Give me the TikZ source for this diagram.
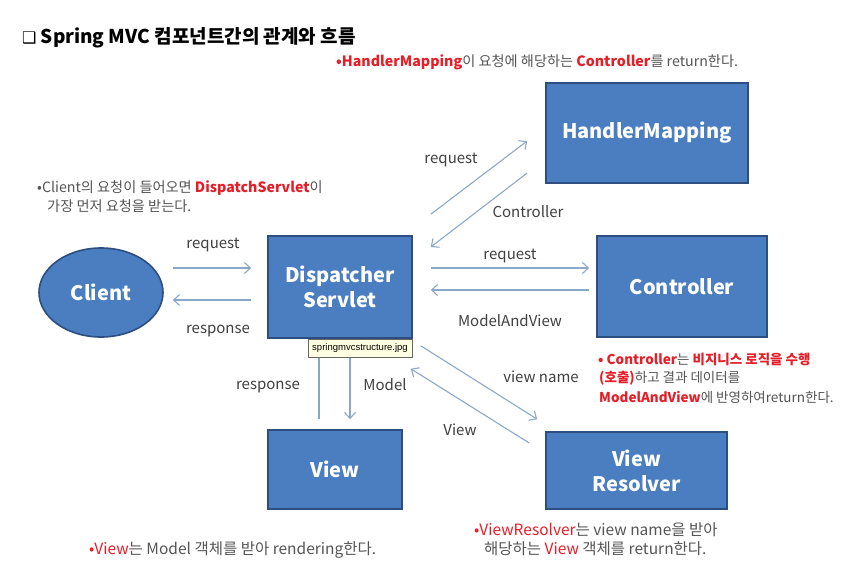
\documentclass[tikz,border=0pt]{standalone}
\usepackage{fontspec}
\setmainfont{Noto Sans CJK KR}
\newfontfamily\symfont{DejaVu Sans}
\newfontfamily\tipfont{Liberation Sans}
\usetikzlibrary{shapes.geometric,arrows.meta,calc}
\definecolor{boxfill}{RGB}{74,126,193}
\definecolor{boxline}{RGB}{44,78,128}
\definecolor{arrowc}{RGB}{140,168,200}
\definecolor{kred}{RGB}{230,30,40}
\definecolor{kgray}{RGB}{85,85,85}
\definecolor{lblc}{RGB}{64,64,64}
\definecolor{tipfill}{RGB}{255,255,225}
\newcommand\hl[1]{\textcolor{kred}{\bfseries #1}}
\tikzset{
  box/.style={draw=boxline, line width=1.6pt, fill=boxfill, text=white,
    font=\bfseries\fontsize{20}{25}\selectfont, align=center, inner sep=0pt},
  arr/.style={draw=arrowc, line width=1.1pt, -{Straight Barb[length=6pt,width=11pt]}},
  lbl/.style={text=lblc, font=\fontsize{15}{18}\selectfont, inner sep=0pt},
  note/.style={text=kgray, font=\fontsize{13.5}{16}\selectfont, anchor=west, inner sep=0pt},
  notea/.style={note, font=\fontsize{14.2}{17}\selectfont},
  noteb/.style={note, font=\fontsize{15.5}{18}\selectfont},
}
\begin{document}
\begin{tikzpicture}[x=1pt,y=-1pt]
\fill[white] (0,0) rectangle (843,573);
\useasboundingbox (0,0) rectangle (843,573);

% title
\node[anchor=west, inner sep=0pt, font=\bfseries\fontsize{19}{22}\selectfont] (title) at (22,38)
  {{\symfont\mdseries\fontsize{16}{18}\selectfont ❑}\ Spring MVC 컴포넌트간의 관계와 흐름};

% boxes
\node[box, minimum width=202pt, minimum height=100pt] (hm) at (647,133) {HandlerMapping};
\node[box, minimum width=144pt, minimum height=102pt] (ds) at (340,287) {Dispatcher\\Servlet};
\node[box, minimum width=170pt, minimum height=101pt] (ctrl) at (682,286.5) {Controller};
\node[box, minimum width=134pt, minimum height=79pt] (view) at (335,469.5) {View};
\node[box, minimum width=181pt, minimum height=77pt] (vr) at (636.5,470.5) {View\\Resolver};
\node[box, ellipse, minimum width=124pt, minimum height=89pt] (client) at (101,292.5) {Client};

% connectors
\draw[arr] ($(client.east)+(9,-24.5)$) -- ($(ds.west)+(-16,-19)$);
\draw[arr] ($(ds.west)+(-16,13)$) -- ($(client.east)+(9,7.5)$);
\draw[arr] ($(ds.north east)+(18,-21)$) -- ($(hm.west)+(-18,8)$);
\draw[arr] ($(hm.west)+(-18,40)$) -- ($(ds.east)+(18,-40)$);
\draw[arr] ($(ds.east)+(18,-19)$) -- ($(ctrl.west)+(-7,-18.5)$);
\draw[arr] ($(ctrl.west)+(-7,3.5)$) -- ($(ds.east)+(18,3)$);
\draw[arr] ($(view.north)+(-16,-10)$) -- ($(ds.south)+(-21,7)$);
\draw[arr] ($(ds.south)+(10,7)$) -- ($(view.north)+(15,-10)$);
\draw[arr] ($(ds.south east)+(8,7)$) -- ($(vr.north west)+(-8,-12)$);
\draw[arr] ($(vr.west)+(-16,-27.5)$) -- ($(ds.south east)+(-2,30)$);

% connector labels
\node[lbl] (l1) at (213,245) {request};
\node[lbl] (l2) at (218,331) {response};
\node[lbl] (l3) at (451,160) {request};
\node[lbl] (l4) at (528,212) {Controller};
\node[lbl] (l5) at (510,256) {request};
\node[lbl] (l6) at (510,321) {ModelAndView};
\node[lbl] (l7) at (268,387) {response};
\node[lbl] (l8) at (385,385) {Model};
\node[lbl] (l9) at (541,377) {view name};
\node[lbl] (l10) at (460,430) {View};

% tooltip
\node[draw=black!60, fill=tipfill, font=\tipfont\fontsize{9.5}{11}\selectfont,
  inner sep=1pt, minimum height=18pt, minimum width=104pt] (tip) at (360,348) {springmvcstructure.jpg};

% notes
\node[notea] (n1) at (336,62) {\hl{•HandlerMapping}이 요청에 해당하는 \hl{Controller}를 return한다.};
\node[notea] (n2a) at (37,188) {•Client의 요청이 들어오면 \hl{DispatchServlet}이};
\node[notea] (n2b) at (47,206) {가장 먼저 요청을 받는다.};
\node[note] (n3a) at (598,359) {\hl{• Controller}는 \hl{비지니스 로직을 수행}};
\node[note] (n3b) at (599,378) {\hl{(호출)}하고 결과 데이터를};
\node[note] (n3c) at (599,397) {\hl{ModelAndView}에 반영하여return한다.};
\node[noteb] (n4) at (89,550) {\textcolor{kred}{•View}는 Model 객체를 받아 rendering한다.};
\node[noteb] (n5a) at (474,530) {\textcolor{kred}{•ViewResolver}는 view name을 받아};
\node[noteb] (n5b) at (484,549) {해당하는 \textcolor{kred}{View} 객체를 return한다.};
\end{tikzpicture}
\end{document}
